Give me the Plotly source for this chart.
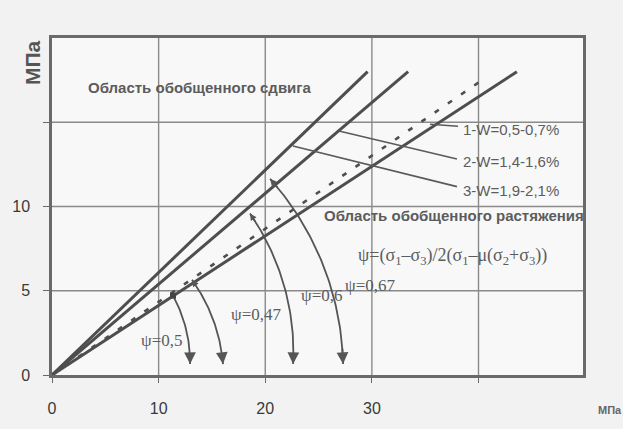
import numpy as np
import plotly.graph_objects as go

# ---------------- data ----------------
# straight lines from the origin (x = sigma, y = tau, MPa)
line1_x = [0, 29.6]; line1_y = [0, 18.0]
line2_x = [0, 33.4]; line2_y = [0, 18.0]
dash_x = [0, 40.1];  dash_y = [0, 17.4]
line4_x = [0, 43.6]; line4_y = [0, 18.0]

# psi arcs: start point (x, y) and end point on the sigma axis
arc_labels = ["ψ=0,5", "ψ=0,47", "ψ=0,6", "ψ=0,67"]
arc_start_x = [11.35, 13.13, 18.57, 20.45]
arc_start_y = [4.71, 5.65, 9.59, 11.65]
arc_end_x = [12.95, 16.04, 22.61, 27.30]
arc_end_y = [0.65, 0.65, 0.65, 0.65]

# leader lines for the W labels
w_labels = ["1-W=0,5-0,7%", "2-W=1,4-1,6%", "3-W=1,9-2,1%"]
lead_x0 = [35.45, 27.01, 22.60]
lead_y0 = [14.88, 14.47, 13.59]
lead_x1 = [38.08, 37.98, 37.98]
lead_y1 = [14.76, 12.82, 11.18]

x_tickvals = [0, 10, 20, 30, 40]
x_ticktext = ["0", "10", "20", "30", ""]
y_tickvals = [0, 5, 10, 15]
y_ticktext = ["0", "5", "10", ""]

# ---------------- figure ----------------
W, H = 623, 429
ML, MR, MT, MB = 52, 40, 38, 51
XR = [0, 49.8]
YR = [0, 20]
sx = (W - ML - MR) / (XR[1] - XR[0])  # px per unit
sy = (H - MT - MB) / (YR[1] - YR[0])

LC = "#4e4e4e"
GC = "#8a8a8a"
fig = go.Figure()

# grid lines drawn as line traces
gx, gy = [], []
for v in x_tickvals[1:]:
    gx += [v, v, None]
    gy += [YR[0], YR[1], None]
for v in y_tickvals[1:]:
    gx += [XR[0], XR[1], None]
    gy += [v, v, None]
fig.add_trace(go.Scatter(x=gx, y=gy, mode="lines", line=dict(color=GC, width=1.4),
                         hoverinfo="skip", showlegend=False, cliponaxis=False))

for xs, ys, dash, w in [(line1_x, line1_y, None, 3), (line2_x, line2_y, None, 3),
                        (dash_x, dash_y, "5px,11px", 2.6), (line4_x, line4_y, None, 3)]:
    fig.add_trace(go.Scatter(x=xs, y=ys, mode="lines",
                             line=dict(color=LC, width=w, dash=dash),
                             hoverinfo="skip", showlegend=False))

# leader lines
for i in range(3):
    fig.add_trace(go.Scatter(x=[lead_x0[i], lead_x1[i]], y=[lead_y0[i], lead_y1[i]],
                             mode="lines", line=dict(color="#5a5a5a", width=1.6),
                             hoverinfo="skip", showlegend=False))

# arcs (drawn as circles about the origin in screen space)
annotations = []
for i in range(4):
    X0, Y0 = arc_start_x[i] * sx, arc_start_y[i] * sy
    X1, Y1 = arc_end_x[i] * sx, arc_end_y[i] * sy
    r0, t0 = np.hypot(X0, Y0), np.arctan2(Y0, X0)
    r1, t1 = np.hypot(X1, Y1), np.arctan2(Y1, X1)
    s = np.linspace(0, 1, 60)
    r = r0 + (r1 - r0) * s
    t = t0 + (t1 - t0) * s
    ax_ = r * np.cos(t) / sx
    ay_ = r * np.sin(t) / sy
    fig.add_trace(go.Scatter(x=ax_, y=ay_, mode="lines",
                             line=dict(color="#555555", width=1.8),
                             hoverinfo="skip", showlegend=False))
    # end arrowhead (pointing down to the axis)
    annotations.append(dict(x=ax_[-1], y=ay_[-1], ax=ax_[-6], ay=ay_[-6],
                            xref="x", yref="y", axref="x", ayref="y",
                            showarrow=True, arrowhead=2, arrowsize=1.3,
                            arrowwidth=1.8, arrowcolor="#555555", text=""))
    if i > 0:
        annotations.append(dict(x=ax_[0], y=ay_[0], ax=ax_[4], ay=ay_[4],
                                xref="x", yref="y", axref="x", ayref="y",
                                showarrow=True, arrowhead=2, arrowsize=0.9,
                                arrowwidth=1.5, arrowcolor="#555555", text=""))

fig.add_trace(go.Scatter(x=[arc_start_x[0]], y=[arc_start_y[0]], mode="markers",
                         marker=dict(color="#444444", size=6, symbol="square"),
                         hoverinfo="skip", showlegend=False))

def px2x(p):
    return (p - ML) / sx

def py2y(p):
    return (H - MB - p) / sy

LABC = "#5c5c5c"
SANS = "Liberation Sans, Arial"
SERIF = "Liberation Serif, Times New Roman"
# region labels
annotations.append(dict(x=px2x(200), y=py2y(88), xref="x", yref="y", showarrow=False,
                        text="<b>Область обобщенного сдвига</b>",
                        font=dict(family=SANS, size=15, color=LABC)))
annotations.append(dict(x=px2x(322), y=py2y(217), xref="x", yref="y", showarrow=False,
                        xanchor="left",
                        text="<b>Область обобщенного растяжения</b>",
                        font=dict(family=SANS, size=15, color=LABC)))
annotations.append(dict(x=px2x(356), y=py2y(258), xref="x", yref="y", showarrow=False,
                        xanchor="left",
                        text="ψ=(σ<sub>1</sub>–σ<sub>3</sub>)/2(σ<sub>1</sub>–μ(σ<sub>2</sub>+σ<sub>3</sub>))",
                        font=dict(family=SERIF, size=18, color=LABC)))
w_py = [130, 163, 192]
for i in range(3):
    annotations.append(dict(x=px2x(461), y=py2y(w_py[i]), xref="x", yref="y",
                            showarrow=False, xanchor="left", text=w_labels[i],
                            font=dict(family=SANS, size=15, color=LABC)))
psi_px = [139, 229, 299, 343]
psi_py = [343, 317, 298, 288]
for i in range(4):
    annotations.append(dict(x=px2x(psi_px[i]), y=py2y(psi_py[i]), xref="x", yref="y",
                            showarrow=False, xanchor="left", text=arc_labels[i],
                            font=dict(family=SERIF, size=17, color=LABC)))

# axis unit labels
annotations.append(dict(x=(19 - ML) / (W - ML - MR), y=(H - MB - 38) / (H - MT - MB),
                        xref="paper", yref="paper", showarrow=False, textangle=-90,
                        text="<b>МПа</b>",
                        font=dict(family=SANS, size=21, color="#555555")))
annotations.append(dict(x=(596 - ML) / (W - ML - MR), y=(H - MB - 421) / (H - MT - MB),
                        xref="paper", yref="paper", showarrow=False, xanchor="left",
                        text="<b>МПа</b>",
                        font=dict(family=SANS, size=11, color="#666666")))

fig.update_layout(
    width=W, height=H,
    margin=dict(l=ML, r=MR, t=MT, b=MB),
    paper_bgcolor="#f2f2f2", plot_bgcolor="#f8f8f8",
    showlegend=False,
    annotations=annotations,
    xaxis=dict(range=XR, tickvals=x_tickvals, ticktext=x_ticktext,
               showgrid=False,
               showline=True, linecolor="#6a6a6a", linewidth=2.5, mirror=True,
               ticks="outside", ticklen=5, tickcolor="#6a6a6a", ticklabelstandoff=12,
               zeroline=False,
               tickfont=dict(family=SANS, size=16, color="#3a3a3a")),
    yaxis=dict(range=YR, tickvals=y_tickvals, ticktext=y_ticktext,
               showgrid=False,
               showline=True, linecolor="#6a6a6a", linewidth=2.5, mirror=True,
               ticks="outside", ticklen=6, tickcolor="#6a6a6a", ticklabelstandoff=10,
               zeroline=False,
               tickfont=dict(family=SANS, size=16, color="#3a3a3a")),
)

fig.write_html("out.html")
